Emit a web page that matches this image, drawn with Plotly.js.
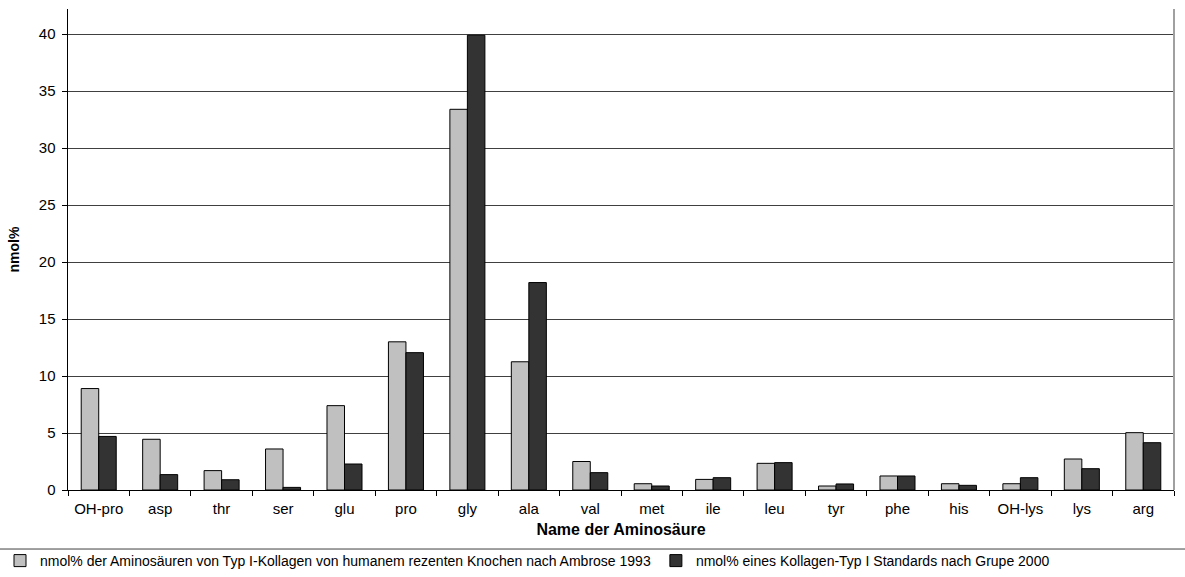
<!DOCTYPE html>
<html>
<head>
<meta charset="utf-8">
<script src="https://cdn.plot.ly/plotly-3.0.1.min.js"></script>
<style>html,body{margin:0;padding:0;background:#fff;}#chart{width:1185px;height:577px;}</style>
</head>
<body>
<div id="chart"></div>
<script>
const categories = ["OH-pro","asp","thr","ser","glu","pro","gly","ala","val","met","ile","leu","tyr","phe","his","OH-lys","lys","arg"];
const ambrose1993 = [8.9,4.45,1.7,3.6,7.4,13.0,33.4,11.25,2.5,0.55,0.93,2.34,0.35,1.23,0.55,0.55,2.72,5.03];
const grupe2000 = [4.7,1.35,0.9,0.23,2.28,12.05,39.9,18.2,1.52,0.35,1.08,2.4,0.53,1.23,0.41,1.08,1.87,4.15];
const seriesNames = [
  "nmol% der Aminosäuren von Typ I-Kollagen von humanem rezenten Knochen nach Ambrose 1993",
  "nmol% eines Kollagen-Typ I Standards nach Grupe 2000"
];
const yTicks = [0,5,10,15,20,25,30,35,40];

const FONT = "Liberation Sans, Arial, sans-serif";
const traces = [
  {type:"bar", name:seriesNames[0], x:categories, y:ambrose1993,
   marker:{color:"#c0c0c0", line:{color:"#000", width:1}}},
  {type:"bar", name:seriesNames[1], x:categories, y:grupe2000,
   marker:{color:"#333333", line:{color:"#000", width:1}}}
];
const layout = {
  width:1185, height:577,
  margin:{l:68, r:11, t:9, b:87},
  paper_bgcolor:"#fff", plot_bgcolor:"#fff",
  font:{family:FONT, size:15, color:"#000"},
  barmode:"group", bargap:0.43, bargroupgap:0,
  showlegend:true,
  legend:{orientation:"h", xref:"container", yref:"container",
          x:-0.017, xanchor:"left", y:0, yanchor:"bottom",
          font:{family:FONT, size:14, color:"#000"}, itemwidth:30,
          tracegroupgap:0, bgcolor:"rgba(0,0,0,0)"},
  xaxis:{
    type:"category", showgrid:false, showline:true, linecolor:"#000", linewidth:1,
    ticks:"outside", tickson:"boundaries", ticklen:5, tickcolor:"#000",
    tickfont:{family:FONT, size:15}, ticklabelstandoff:5,
    title:{text:"<b>Name der Aminosäure</b>", font:{family:FONT, size:16}, standoff:7}
  },
  yaxis:{
    range:[0,42.2], tickvals:yTicks, showgrid:true, gridcolor:"#404040", gridwidth:1,
    showline:true, linecolor:"#000", linewidth:1.5, ticks:"outside", ticklen:5, tickcolor:"#000",
    tickfont:{family:FONT, size:15}, ticklabelstandoff:3, zeroline:false,
    title:{text:"<b>nmol%</b>", font:{family:FONT, size:14}, standoff:16}
  },
  shapes:[
    {type:"line", xref:"paper", yref:"paper", x0:-0.07, x1:1.02, y0:-0.1227, y1:-0.1227, line:{color:"#404040", width:1}},
    {type:"line", xref:"paper", yref:"paper", x0:1, x1:1, y0:0, y1:1, line:{color:"#a0a0a0", width:2}}
  ]
};
Plotly.newPlot("chart", traces, layout, {displayModeBar:false, staticPlot:true});
</script>
</body>
</html>
